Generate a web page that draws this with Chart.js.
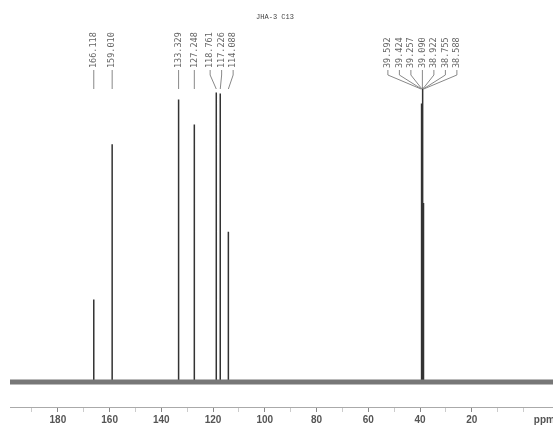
<!DOCTYPE html>
<html>
<head>
<meta charset="utf-8">
<script src="https://cdn.jsdelivr.net/npm/chart.js@4.4.1/dist/chart.umd.min.js"></script>
<style>
  html, body { margin: 0; padding: 0; background: #fff; }
  #wrap { width: 553px; height: 428px; }
</style>
</head>
<body>
<div id="wrap"><canvas id="spectrum" width="553" height="428"></canvas></div>
<script>
/* global Chart */

// spectrum data (ppm / relative intensity)
const spectrumTitle = 'JHA-3 C13';
const peakPpm = [166.118, 159.010, 133.329, 127.248, 118.761, 117.226, 114.088,
  39.592, 39.424, 39.257, 39.090, 38.922, 38.755, 38.588];
const peakHeight = [83, 239, 284, 259, 291, 290, 151,
  70, 180, 280, 296, 280, 180, 70];
const peakLabels = ['166.118', '159.010', '133.329', '127.248', '118.761', '117.226', '114.088',
  '39.592', '39.424', '39.257', '39.090', '38.922', '38.755', '38.588'];

const axisRange = [-11.4, 198.5];
const majorTicks = [180, 160, 140, 120, 100, 80, 60, 40, 20];
const minorTicks = [190, 170, 150, 130, 110, 90, 70, 50, 30, 10, 0];
const axisUnit = 'ppm';

function buildPeakPoints() {
  const pts = [{ x: axisRange[1], y: 0 }];
  peakPpm.forEach((ppm, i) => {
    pts.push({ x: ppm, y: 0 });
    pts.push({ x: ppm, y: peakHeight[i] });
    pts.push({ x: ppm, y: 0 });
  });
  pts.push({ x: axisRange[0], y: 0 });
  return pts;
}

const baseline = [{ x: axisRange[1], y: 0 }, { x: axisRange[0], y: 0 }];

// peak-pick labels, spread apart when they crowd each other
const peakLabelPlugin = {
  id: 'peakLabels',
  afterDatasetsDraw(chart) {
    const { ctx } = chart;
    const xs = chart.scales.x;
    const spacing = 11.5;
    const textBottom = 68;
    const kneeY = 75;
    const endY = 89;

    const items = peakLabels.map((text, i) => ({ text, px: xs.getPixelForValue(peakPpm[i]) }))
      .sort((a, b) => a.px - b.px);

    const groups = [];
    items.forEach((item) => {
      const last = groups[groups.length - 1];
      if (last && item.px - last[last.length - 1].px < spacing) last.push(item);
      else groups.push([item]);
    });

    ctx.save();
    ctx.font = '8.5px "DejaVu Sans Mono"';
    ctx.fillStyle = '#666';
    ctx.strokeStyle = '#888';
    ctx.lineWidth = 1;
    ctx.textBaseline = 'middle';
    ctx.textAlign = 'left';

    groups.forEach((group) => {
      const center = group.reduce((s, it) => s + it.px, 0) / group.length;
      group.forEach((it, i) => {
        const lx = group.length === 1 ? it.px : center + (i - (group.length - 1) / 2) * spacing;
        ctx.save();
        ctx.translate(lx, textBottom);
        ctx.rotate(-Math.PI / 2);
        ctx.fillText(it.text, 0, 0);
        ctx.restore();

        ctx.beginPath();
        ctx.moveTo(lx, textBottom + 2);
        if (group.length === 1) {
          ctx.lineTo(lx, endY);
        } else {
          ctx.lineTo(lx, kneeY);
          ctx.lineTo(it.px, endY);
        }
        ctx.stroke();
      });
    });

    // title and unit
    ctx.font = '7px "Liberation Mono"';
    ctx.fillStyle = '#444';
    ctx.textAlign = 'center';
    ctx.fillText(spectrumTitle, 275, 17);

    ctx.font = 'bold 10px "Liberation Sans"';
    ctx.fillStyle = '#555';
    ctx.textAlign = 'left';
    ctx.fillText(axisUnit, xs.getPixelForValue(-4), chart.chartArea.bottom + 13);
    ctx.restore();
  },
};

const ctx = document.getElementById('spectrum').getContext('2d');
new Chart(ctx, {
  type: 'line',
  data: {
    datasets: [
      {
        label: 'baseline band',
        data: baseline,
        borderColor: '#777',
        borderWidth: 5,
        pointRadius: 0,
      },
      {
        label: 'baseline',
        data: baseline,
        borderColor: '#1a1a1a',
        borderWidth: 2,
        pointRadius: 0,
      },
      {
        label: 'spectrum',
        data: buildPeakPoints(),
        borderColor: '#333',
        borderWidth: 1.5,
        pointRadius: 0,
        tension: 0,
      },
    ],
  },
  options: {
    responsive: false,
    animation: false,
    devicePixelRatio: 1,
    layout: { padding: { left: 10, right: 0, top: 0, bottom: 0 } },
    plugins: {
      legend: { display: false },
      tooltip: { enabled: false },
    },
    scales: {
      x: {
        type: 'linear',
        reverse: true,
        min: axisRange[0],
        max: axisRange[1],
        afterBuildTicks(scale) {
          scale.ticks = majorTicks.concat(minorTicks)
            .sort((a, b) => a - b)
            .map((value) => ({ value }));
        },
        ticks: {
          autoSkip: false,
          maxRotation: 0,
          padding: 2,
          color: '#555',
          font: { family: 'Liberation Sans', size: 10, weight: 'bold' },
          callback: (value) => (majorTicks.includes(value) ? String(value) : ''),
        },
        grid: {
          drawOnChartArea: false,
          drawTicks: true,
          tickLength: 5,
          tickColor: (c) => (majorTicks.includes(c.tick && c.tick.value) ? '#888' : '#ccc'),
        },
        border: { display: true, color: '#aaa', width: 1 },
      },
      y: {
        display: false,
        min: -25,
        max: 384,
      },
    },
  },
  plugins: [peakLabelPlugin],
});
</script>
</body>
</html>
